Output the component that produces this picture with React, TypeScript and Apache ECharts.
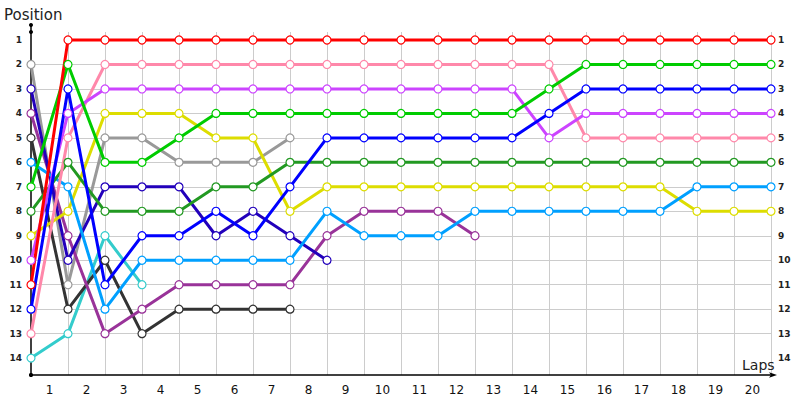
import { useEffect, useRef } from "react";
import * as echarts from "echarts";

const lapLabels = ["1", "2", "3", "4", "5", "6", "7", "8", "9", "10", "11", "12", "13", "14", "15", "16", "17", "18", "19", "20"];
const positionLabels = [1, 2, 3, 4, 5, 6, 7, 8, 9, 10, 11, 12, 13, 14];

// positions per lap, index 0 = start (lap 0)
const red = [11, 1, 1, 1, 1, 1, 1, 1, 1, 1, 1, 1, 1, 1, 1, 1, 1, 1, 1, 1, 1];
const green = [7, 2, 6, 6, 5, 4, 4, 4, 4, 4, 4, 4, 4, 4, 3, 2, 2, 2, 2, 2, 2];
const blue = [12, 3, 11, 9, 9, 8, 9, 7, 5, 5, 5, 5, 5, 5, 4, 3, 3, 3, 3, 3, 3];
const violet = [10, 4, 3, 3, 3, 3, 3, 3, 3, 3, 3, 3, 3, 3, 5, 4, 4, 4, 4, 4, 4];
const pink = [13, 5, 2, 2, 2, 2, 2, 2, 2, 2, 2, 2, 2, 2, 2, 5, 5, 5, 5, 5, 5];
const darkGreen = [8, 6, 8, 8, 8, 7, 7, 6, 6, 6, 6, 6, 6, 6, 6, 6, 6, 6, 6, 6, 6];
const skyBlue = [6, 7, 12, 10, 10, 10, 10, 10, 8, 9, 9, 9, 8, 8, 8, 8, 8, 8, 7, 7, 7];
const yellow = [9, 8, 4, 4, 4, 5, 5, 8, 7, 7, 7, 7, 7, 7, 7, 7, 7, 7, 8, 8, 8];
const navy = [3, 10, 7, 7, 7, 9, 8, 9, 10];
const purple = [4, 9, 13, 12, 11, 11, 11, 11, 9, 8, 8, 8, 9];
const gray = [2, 11, 5, 5, 6, 6, 6, 5];
const black = [5, 12, 10, 13, 12, 12, 12, 12];
const cyan = [14, 13, 9, 11];

const drivers: { name: string; color: string; data: number[] }[] = [
  { name: "cyan", color: "#33cccc", data: cyan },
  { name: "black", color: "#333333", data: black },
  { name: "gray", color: "#999999", data: gray },
  { name: "purple", color: "#993399", data: purple },
  { name: "navy", color: "#2200bb", data: navy },
  { name: "yellow", color: "#dddd00", data: yellow },
  { name: "skyBlue", color: "#00a0ff", data: skyBlue },
  { name: "darkGreen", color: "#229922", data: darkGreen },
  { name: "pink", color: "#ff88aa", data: pink },
  { name: "violet", color: "#cc44ff", data: violet },
  { name: "blue", color: "#0000ff", data: blue },
  { name: "green", color: "#00cc00", data: green },
  { name: "red", color: "#ff0000", data: red },
];

const Y_MIN = 0.673;
const Y_MAX = 14.69;
const FONT = "DejaVu Sans";

export default function App() {
  const ref = useRef<HTMLDivElement>(null);
  useEffect(() => {
    if (!ref.current) return;
    const chart = echarts.init(ref.current, undefined, { renderer: "svg" });
    chart.setOption({
      animation: false,
      backgroundColor: "#ffffff",
      title: [
        { text: "Position", left: -1, top: 2, textStyle: { fontFamily: FONT, fontSize: 15, fontWeight: "normal", color: "#222" } },
        { text: "Laps", left: 737, top: 353, textStyle: { fontFamily: FONT, fontSize: 14, fontWeight: "normal", color: "#222" } },
      ],
      graphic: [
        { type: "line", silent: true, shape: { x1: 31, y1: 25, x2: 31, y2: 33 }, style: { stroke: "#000", lineWidth: 1.5 } },
        { type: "circle", silent: true, shape: { cx: 31, cy: 25, r: 2 }, style: { fill: "#000" } },
      ],
      grid: { left: 31, right: 29, top: 32, bottom: 25, containLabel: false },
      xAxis: [
        {
          type: "value",
          min: 0,
          max: 20,
          interval: 1,
          axisLine: { show: true, lineStyle: { color: "#000", width: 1.5 }, symbol: ["circle", "arrow"], symbolSize: [4, 8], symbolOffset: [0, 6] },
          axisTick: { show: false },
          axisLabel: { show: false },
          splitLine: { show: true, showMinLine: false, lineStyle: { color: "#cccccc", width: 1 } },
        },
        {
          type: "category",
          data: lapLabels,
          position: "bottom",
          boundaryGap: true,
          axisLine: { show: false },
          axisTick: { show: false },
          splitLine: { show: false },
          axisLabel: { margin: 9, fontFamily: FONT, fontSize: 12, color: "#111" },
        },
      ],
      yAxis: [
        {
          type: "value",
          inverse: true,
          min: Y_MIN,
          max: Y_MAX,
          axisLine: { show: true, onZero: false, lineStyle: { color: "#000", width: 1.5 }, symbol: ["circle", "circle"], symbolSize: [4, 4] },
          axisTick: { show: false, customValues: positionLabels },
          splitLine: { show: true, showMinLine: false, showMaxLine: false, lineStyle: { color: "#cccccc", width: 1 } },
          axisLabel: { customValues: positionLabels, margin: 9, fontFamily: FONT, fontSize: 9, fontWeight: "bold", color: "#222" },
        },
        {
          type: "value",
          inverse: true,
          position: "right",
          min: Y_MIN,
          max: Y_MAX,
          axisLine: { show: false },
          axisTick: { show: false, customValues: positionLabels },
          splitLine: { show: false },
          axisLabel: { customValues: positionLabels, margin: 7, fontFamily: FONT, fontSize: 9, fontWeight: "bold", color: "#222" },
        },
      ],
      series: drivers.map((d) => ({
        name: d.name,
        type: "line",
        xAxisIndex: 0,
        yAxisIndex: 0,
        data: d.data.map((p, lap) => [lap, p]),
        symbol: "circle",
        symbolSize: 8,
        showSymbol: true,
        lineStyle: { color: d.color, width: 3 },
        itemStyle: { color: "#ffffff", borderColor: d.color, borderWidth: 1.2 },
        emphasis: { disabled: true },
      })),
    });
    return () => chart.dispose();
  }, []);
  return <div ref={ref} style={{ width: 800, height: 400, position: "fixed", left: 0, top: 0 }} />;
}
